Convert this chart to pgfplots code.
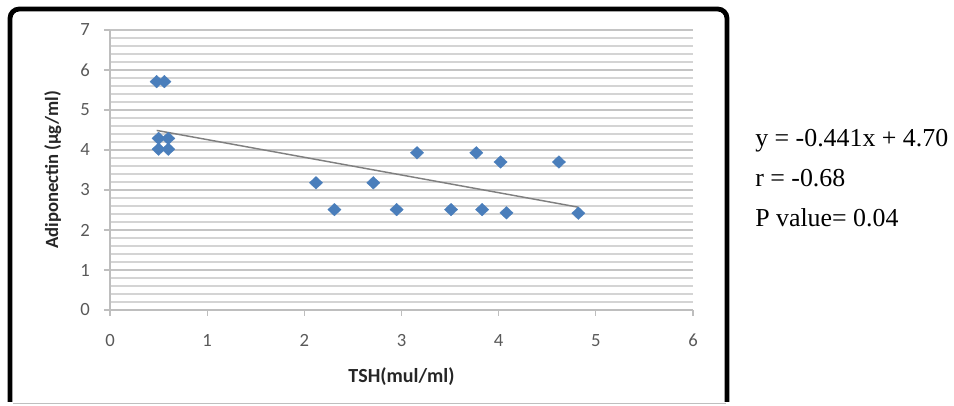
\documentclass[border=0pt]{standalone}
\usepackage{pgfplots}
\pgfplotsset{compat=1.18}
\usepackage{fontspec}
\setmainfont{Liberation Serif}
\newfontfamily\calibri{Carlito}
\definecolor{ptblue}{RGB}{74,126,187}
\definecolor{tickgray}{RGB}{89,89,89}
\definecolor{labcol}{RGB}{38,38,38}
\definecolor{majgrid}{RGB}{196,196,196}
\definecolor{mingrid}{RGB}{212,212,212}
\definecolor{axgray}{RGB}{190,190,190}
\definecolor{trendgray}{RGB}{128,128,128}
\begin{document}
\begin{tikzpicture}[x=0.75pt,y=0.75pt]
\useasboundingbox (0,0) rectangle (954,406);
% frame
\draw[gray!50, line width=0.75pt] (13,2) -- (726,2);
\draw[black, line width=3.6pt, rounded corners=7pt] (10,4) -- (10,397) -- (727,397) -- (727,4);
\begin{axis}[
  at={(82.5pt,72pt)}, anchor=south west,
  scale only axis,
  width=437.25pt, height=210pt,
  xmin=0, xmax=6, ymin=0, ymax=7,
  xtick={0,1,2,3,4,5,6}, ytick={0,1,2,3,4,5,6,7},
  minor y tick num=4,
  axis x line*=bottom, axis y line*=left,
  axis line style={axgray, line width=0.9pt, -},
  tick align=outside,
  major tick length=4.5pt, minor tick length=0pt,
  tick style={axgray, line width=0.9pt},
  ymajorgrids, yminorgrids,
  major grid style={majgrid, line width=1.3pt},
  minor grid style={mingrid, line width=1.0pt},
  /pgf/number format/assume math mode=true,
  ticklabel style={font=\calibri\fontsize{14}{16}\selectfont, text=tickgray},
  xticklabel style={yshift=-10pt},
  yticklabel style={xshift=-7pt},
  xlabel={TSH(mul/ml)},
  ylabel={Adiponectin (µg/ml)},
  xlabel style={font=\calibri\bfseries\fontsize{15}{17}\selectfont, text=labcol, at={(axis description cs:0.5,-0.239)}, anchor=center},
  ylabel style={font=\calibri\bfseries\fontsize{14}{16}\selectfont, text=labcol, at={(axis description cs:-0.098,0.5)}, anchor=center},
  clip=false,
]
\addplot[trendgray, line width=1.1pt] coordinates {(0.48,4.49) (4.82,2.57)};
\addplot[only marks, mark=diamond*, mark size=4pt, mark options={fill=ptblue, draw=ptblue, line width=0.2pt, xscale=1.67, yscale=1.19}] coordinates {
(0.48,5.71) (0.56,5.71)
(0.50,4.29) (0.60,4.29)
(0.50,4.02) (0.60,4.02)
(2.12,3.18) (2.31,2.51) (2.71,3.18) (2.95,2.51)
(3.16,3.93) (3.51,2.51) (3.77,3.93) (3.83,2.51)
(4.02,3.70) (4.08,2.43) (4.62,3.70) (4.82,2.42)
};
\end{axis}
\node[anchor=base west, inner sep=0pt, font=\fontsize{19.4}{22}\selectfont] at (755,259) {y = -0.441x + 4.70};
\node[anchor=base west, inner sep=0pt, font=\fontsize{19.4}{22}\selectfont] at (755,219) {r = -0.68};
\node[anchor=base west, inner sep=0pt, font=\fontsize{19.4}{22}\selectfont] at (755,179) {P value= 0.04};
\end{tikzpicture}
\end{document}
